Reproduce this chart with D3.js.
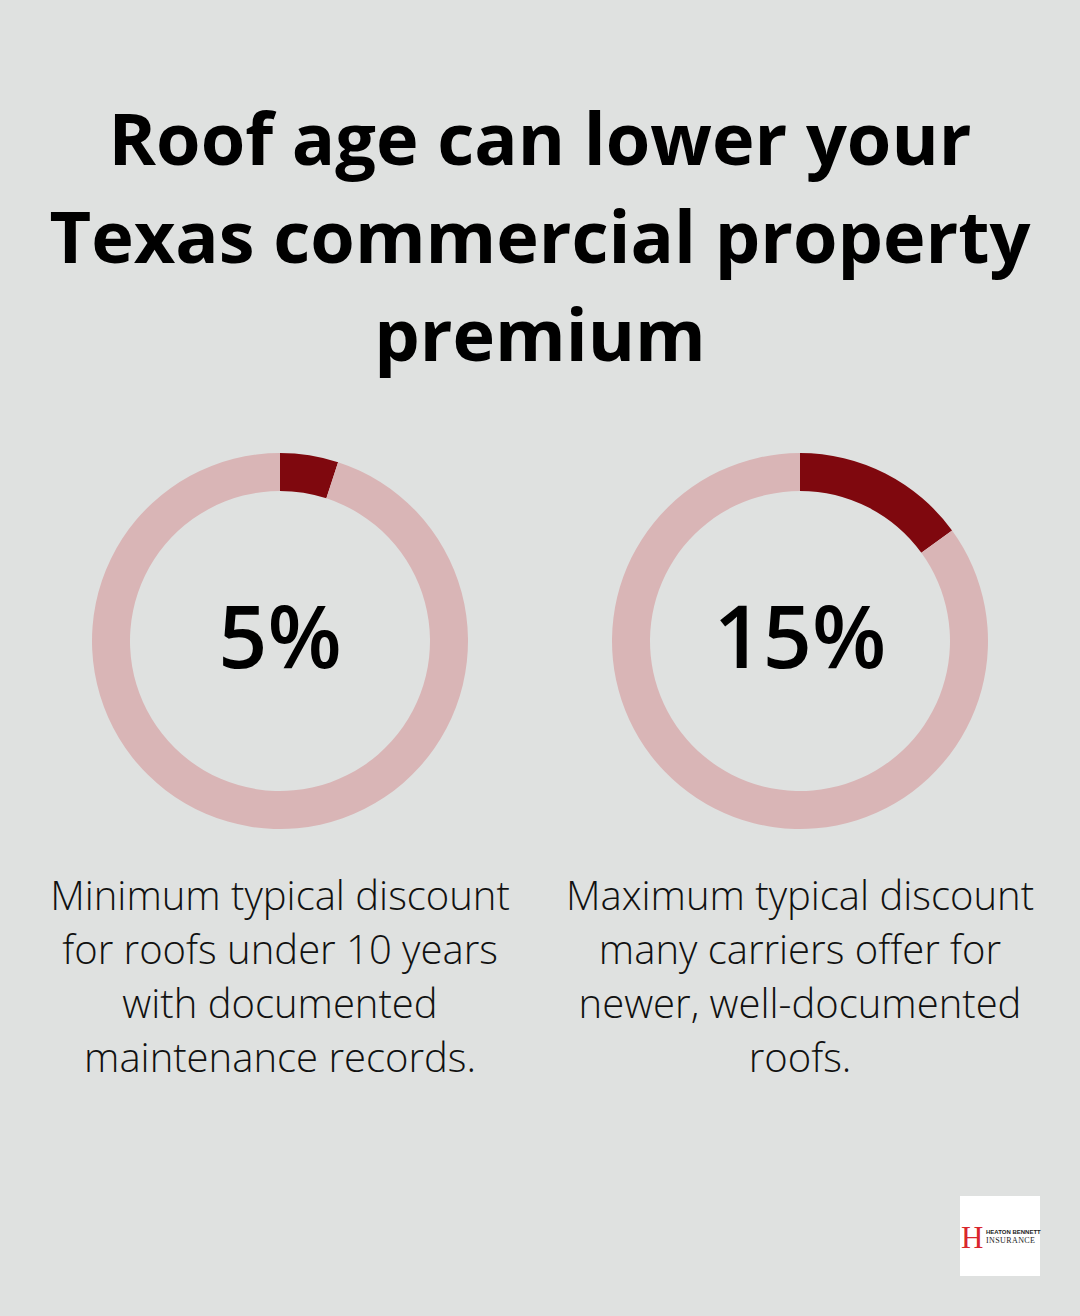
<!DOCTYPE html>
<html>
<head>
<meta charset="utf-8">
<script src="https://cdn.jsdelivr.net/npm/d3@7"></script>
<style>
  html, body { margin: 0; padding: 0; background: #dfe1e0; }
  svg { display: block; }
</style>
</head>
<body>
<div id="chart"></div>
<script>
// chart data
var titleLines = ["Roof age can lower your", "Texas commercial property", "premium"];
var labels = ["5%", "15%"];
var values = [5, 15];
var descriptions = [
    ["Minimum typical discount", "for roofs under 10 years", "with documented", "maintenance records."],
    ["Maximum typical discount", "many carriers offer for", "newer, well-documented", "roofs."]
];

var width = 1080, height = 1316;
var darkRed = "#7f080e", lightPink = "#d9b5b6";

var svg = d3.select("#chart").append("svg")
    .attr("width", width)
    .attr("height", height);

svg.append("rect").attr("width", width).attr("height", height).attr("fill", "#dfe1e0");

// title
svg.append("g").selectAll("text")
    .data(titleLines)
    .enter().append("text")
    .attr("x", width / 2)
    .attr("y", function(d, i) { return 165 + i * 98; })
    .attr("text-anchor", "middle")
    .style("font-family", "'Open Sans', sans-serif")
    .style("font-weight", 700)
    .style("font-size", "72px")
    .attr("fill", "#000")
    .text(function(d) { return d; });

// donuts
var x = d3.scalePoint().domain(d3.range(values.length)).range([280, 800]);
var arc = d3.arc().innerRadius(150).outerRadius(188);
var pie = d3.pie().sort(null).value(function(d) { return d; });

var groups = svg.selectAll(".donut")
    .data(values)
    .enter().append("g")
    .attr("class", "donut")
    .attr("transform", function(d, i) { return "translate(" + x(i) + ",641)"; });

groups.selectAll("path")
    .data(function(d) { return pie([d, 100 - d]); })
    .enter().append("path")
    .attr("d", arc)
    .attr("fill", function(d, i) { return i === 0 ? darkRed : lightPink; });

groups.append("text")
    .attr("y", 27)
    .attr("text-anchor", "middle")
    .style("font-family", "'Open Sans', sans-serif")
    .style("font-weight", 600)
    .style("font-size", "86px")
    .attr("fill", "#000")
    .text(function(d, i) { return labels[i]; });

// descriptions
svg.selectAll(".desc")
    .data(descriptions)
    .enter().append("g")
    .attr("class", "desc")
    .each(function(lines, i) {
        d3.select(this).selectAll("text")
            .data(lines)
            .enter().append("text")
            .attr("x", x(i))
            .attr("y", function(d, j) { return 910 + j * 54; })
            .attr("text-anchor", "middle")
            .style("font-family", "'Open Sans', sans-serif")
            .style("font-weight", 300)
            .style("font-size", "40px")
            .attr("fill", "#111")
            .text(function(d) { return d; });
    });

// logo
var logo = svg.append("g").attr("transform", "translate(960,1196)");
logo.append("rect").attr("width", 80).attr("height", 80).attr("fill", "#fff");
logo.append("text")
    .attr("x", 1).attr("y", 52)
    .style("font-family", "'Liberation Serif', serif")
    .style("font-size", "31px")
    .attr("fill", "#d9262c")
    .text("H");
logo.append("text")
    .attr("x", 26).attr("y", 38)
    .style("font-family", "'Liberation Sans', sans-serif")
    .style("font-size", "6px")
    .style("font-weight", 700)
    .attr("fill", "#222")
    .text("HEATON BENNETT");
logo.append("text")
    .attr("x", 26).attr("y", 47)
    .style("font-family", "'Liberation Serif', serif")
    .style("font-size", "8px")
    .style("letter-spacing", "0.4px")
    .attr("fill", "#222")
    .text("INSURANCE");
</script>
</body>
</html>
